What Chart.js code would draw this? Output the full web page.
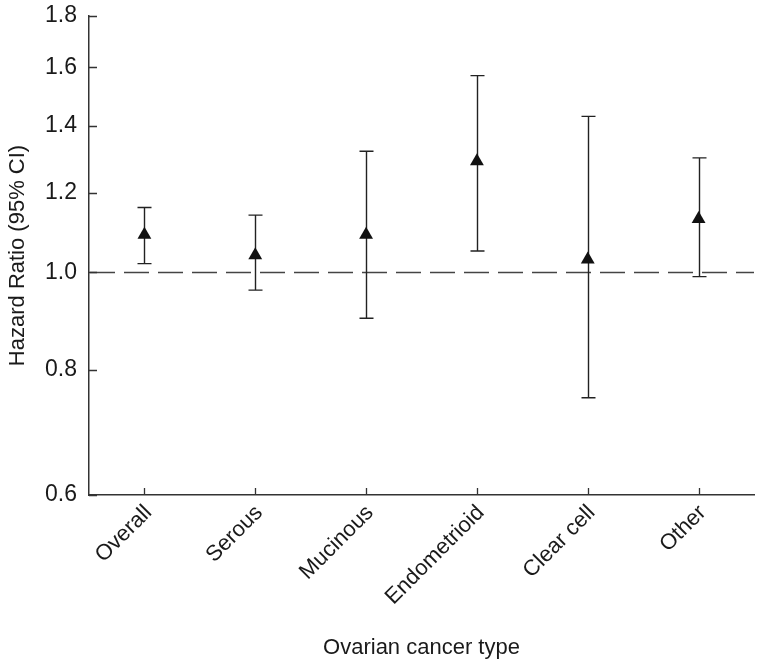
<!DOCTYPE html>
<html>
<head>
<meta charset="utf-8">
<script src="https://cdn.jsdelivr.net/npm/chart.js@4/dist/chart.umd.min.js"></script>
<style>
  html, body { margin: 0; padding: 0; background: #fff; }
  #wrap { width: 763px; height: 669px; }
</style>
</head>
<body>
<div id="wrap"><canvas id="chartCanvas" width="763" height="669"></canvas></div>
<script>
const categories = ["Overall", "Serous", "Mucinous", "Endometrioid", "Clear cell", "Other"];
const hazardRatio = [1.09, 1.04, 1.09, 1.29, 1.03, 1.13];
const ciLower = [1.02, 0.96, 0.90, 1.05, 0.75, 0.99];
const ciUpper = [1.16, 1.14, 1.32, 1.57, 1.43, 1.30];
const yTicks = [0.6, 0.8, 1.0, 1.2, 1.4, 1.6, 1.8];
const refValue = 1.0;

const fontFamily = "'Liberation Sans', Arial, Helvetica, sans-serif";

// error bars, dashed reference line and inward tick marks
const extras = {
  id: "extras",
  beforeDatasetsDraw(chart) {
    const { ctx, chartArea } = chart;
    const x = chart.scales.x;
    const y = chart.scales.y;

    ctx.save();
    ctx.strokeStyle = "#444";
    ctx.lineWidth = 1.5;
    ctx.setLineDash([25, 9]);
    const yRef = Math.round(y.getPixelForValue(refValue)) + 0.5;
    ctx.beginPath();
    ctx.moveTo(chartArea.left + 1, yRef);
    ctx.lineTo(chartArea.right, yRef);
    ctx.stroke();
    ctx.restore();

    ctx.save();
    ctx.strokeStyle = "#222";
    ctx.lineWidth = 1.4;
    categories.forEach((c, i) => {
      const px = Math.round(x.getPixelForValue(i)) + 0.5;
      const top = y.getPixelForValue(ciUpper[i]);
      const bot = y.getPixelForValue(ciLower[i]);
      ctx.beginPath();
      ctx.moveTo(px, top);
      ctx.lineTo(px, bot);
      ctx.moveTo(px - 7, top);
      ctx.lineTo(px + 7, top);
      ctx.moveTo(px - 7, bot);
      ctx.lineTo(px + 7, bot);
      ctx.stroke();
    });
    ctx.restore();
  },
  afterDraw(chart) {
    const { ctx, chartArea } = chart;
    const x = chart.scales.x;
    const y = chart.scales.y;
    ctx.save();
    ctx.strokeStyle = "#333";
    ctx.lineWidth = 1.3;
    ctx.beginPath();
    y.ticks.forEach((t, i) => {
      const py = Math.round(y.getPixelForTick(i)) + 0.5;
      ctx.moveTo(chartArea.left, py);
      ctx.lineTo(chartArea.left + 8, py);
    });
    x.ticks.forEach((t, i) => {
      const px = Math.round(x.getPixelForTick(i)) + 0.5;
      ctx.moveTo(px, chartArea.bottom);
      ctx.lineTo(px, chartArea.bottom - 7);
    });
    ctx.stroke();
    ctx.restore();
  }
};

const ctx = document.getElementById("chartCanvas").getContext("2d");
new Chart(ctx, {
  type: "line",
  data: {
    labels: categories,
    datasets: [{
      data: hazardRatio,
      showLine: false,
      pointStyle: "triangle",
      pointRadius: 8,
      pointHoverRadius: 8,
      pointBackgroundColor: "#111",
      pointBorderColor: "#111",
      pointBorderWidth: 0
    }]
  },
  options: {
    responsive: false,
    animation: false,
    layout: { padding: { top: 16, right: 9, bottom: 0, left: 0 } },
    plugins: {
      legend: { display: false },
      tooltip: { enabled: false }
    },
    scales: {
      x: {
        type: "category",
        offset: true,
        grid: { display: true, drawOnChartArea: false, drawTicks: false },
        border: { display: true, color: "#333", width: 1.5 },
        ticks: {
          color: "#1a1a1a",
          font: { family: fontFamily, size: 22 },
          minRotation: 45,
          maxRotation: 45,
          autoSkip: false,
          padding: 5,
          labelOffset: 4
        },
        title: {
          display: true,
          text: "Ovarian cancer type",
          color: "#1a1a1a",
          font: { family: fontFamily, size: 22 },
          padding: { top: 4, bottom: 8 }
        },
        afterFit(scale) { scale.height = 174; }
      },
      y: {
        type: "logarithmic",
        min: 0.6,
        max: 1.8,
        grid: { display: true, drawOnChartArea: false, drawTicks: false },
        border: { display: true, color: "#333", width: 1.5 },
        afterBuildTicks(scale) {
          scale.ticks = yTicks.map((v) => ({ value: v }));
        },
        ticks: {
          color: "#1a1a1a",
          font: { family: fontFamily, size: 23 },
          autoSkip: false,
          padding: 12,
          callback: (value) => Number(value).toFixed(1)
        },
        title: {
          display: true,
          text: "Hazard Ratio (95% CI)",
          color: "#1a1a1a",
          font: { family: fontFamily, size: 22 },
          padding: { top: 5, bottom: 4 }
        },
        afterFit(scale) {
          scale.width = 89;
          scale.paddingTop = 0;
          scale.paddingBottom = 0;
        }
      }
    }
  },
  plugins: [extras]
});
</script>
</body>
</html>
